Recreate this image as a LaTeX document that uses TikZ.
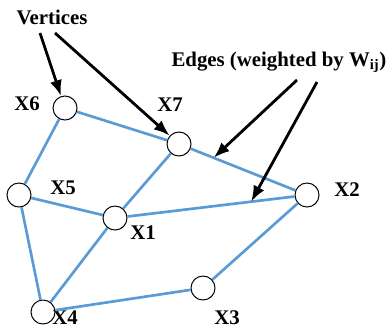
\documentclass[tikz,border=0pt]{standalone}
\usepackage{fontspec}
\setmainfont{Liberation Serif}
\usepackage{xcolor}
\usepackage{tikz}
\usetikzlibrary{arrows.meta}
\definecolor{edgeblue}{RGB}{91,155,213}

\begin{document}
\begin{tikzpicture}[
    x=0.025cm, y=-0.025cm,
    vertex/.style={draw, circle, fill=white, minimum size=0.6cm, inner sep=0pt,
        line width=0.7pt},
    edge/.style={draw=edgeblue, line width=1.9pt},
    pointer/.style={draw=black, line width=2pt,
        -{Latex[length=0.4cm, width=0.3cm]}},
    every node/.style={font=\fontsize{14.8}{17}\selectfont\bfseries}
]
    \useasboundingbox (0,0) rectangle (386,329);

    % vertices
    \node[vertex] (x6) at (65,108) {};
    \node[vertex] (x7) at (179,144) {};
    \node[vertex] (x2) at (307,195) {};
    \node[vertex] (x5) at (19,195) {};
    \node[vertex] (x1) at (115,218) {};
    \node[vertex] (x4) at (43,312) {};
    \node[vertex] (x3) at (203,288) {};

    \node (lx6) at (27,104) {X6};
    \node (lx7) at (170,105) {X7};
    \node (lx2) at (347,190) {X2};
    \node (lx5) at (63,188) {X5};
    \node (lx1) at (143,233) {X1};
    \node (lx4) at (65,318) {X4};
    \node (lx3) at (227,318) {X3};

    % edges
    \draw[edge] (x6) -- (x7);
    \draw[edge] (x7) -- coordinate[pos=0.22] (w72) (x2);
    \draw[edge] (x6) -- (x5);
    \draw[edge] (x5) -- (x1);
    \draw[edge] (x5) -- (x4);
    \draw[edge] (x1) -- (x7);
    \draw[edge] (x1) -- coordinate[pos=0.74] (w12) (x2);
    \draw[edge] (x1) -- (x4);
    \draw[edge] (x4) -- (x3);
    \draw[edge] (x3) -- (x2);

    % callouts
    \node (vert) at (52,17) {Vertices};
    \node (wedge) at (279,62) {Edges (weighted by W\textsubscript{ij})};
    \coordinate (v1) at (40,33);
    \coordinate (v2) at (55,33);
    \coordinate (e1) at (297,80);
    \coordinate (e2) at (317,82);
    \draw[pointer] (v1) -- (x6);
    \draw[pointer] (v2) -- (x7);
    \draw[pointer] (e1) -- (w72);
    \draw[pointer] (e2) -- (w12);
\end{tikzpicture}
\end{document}
